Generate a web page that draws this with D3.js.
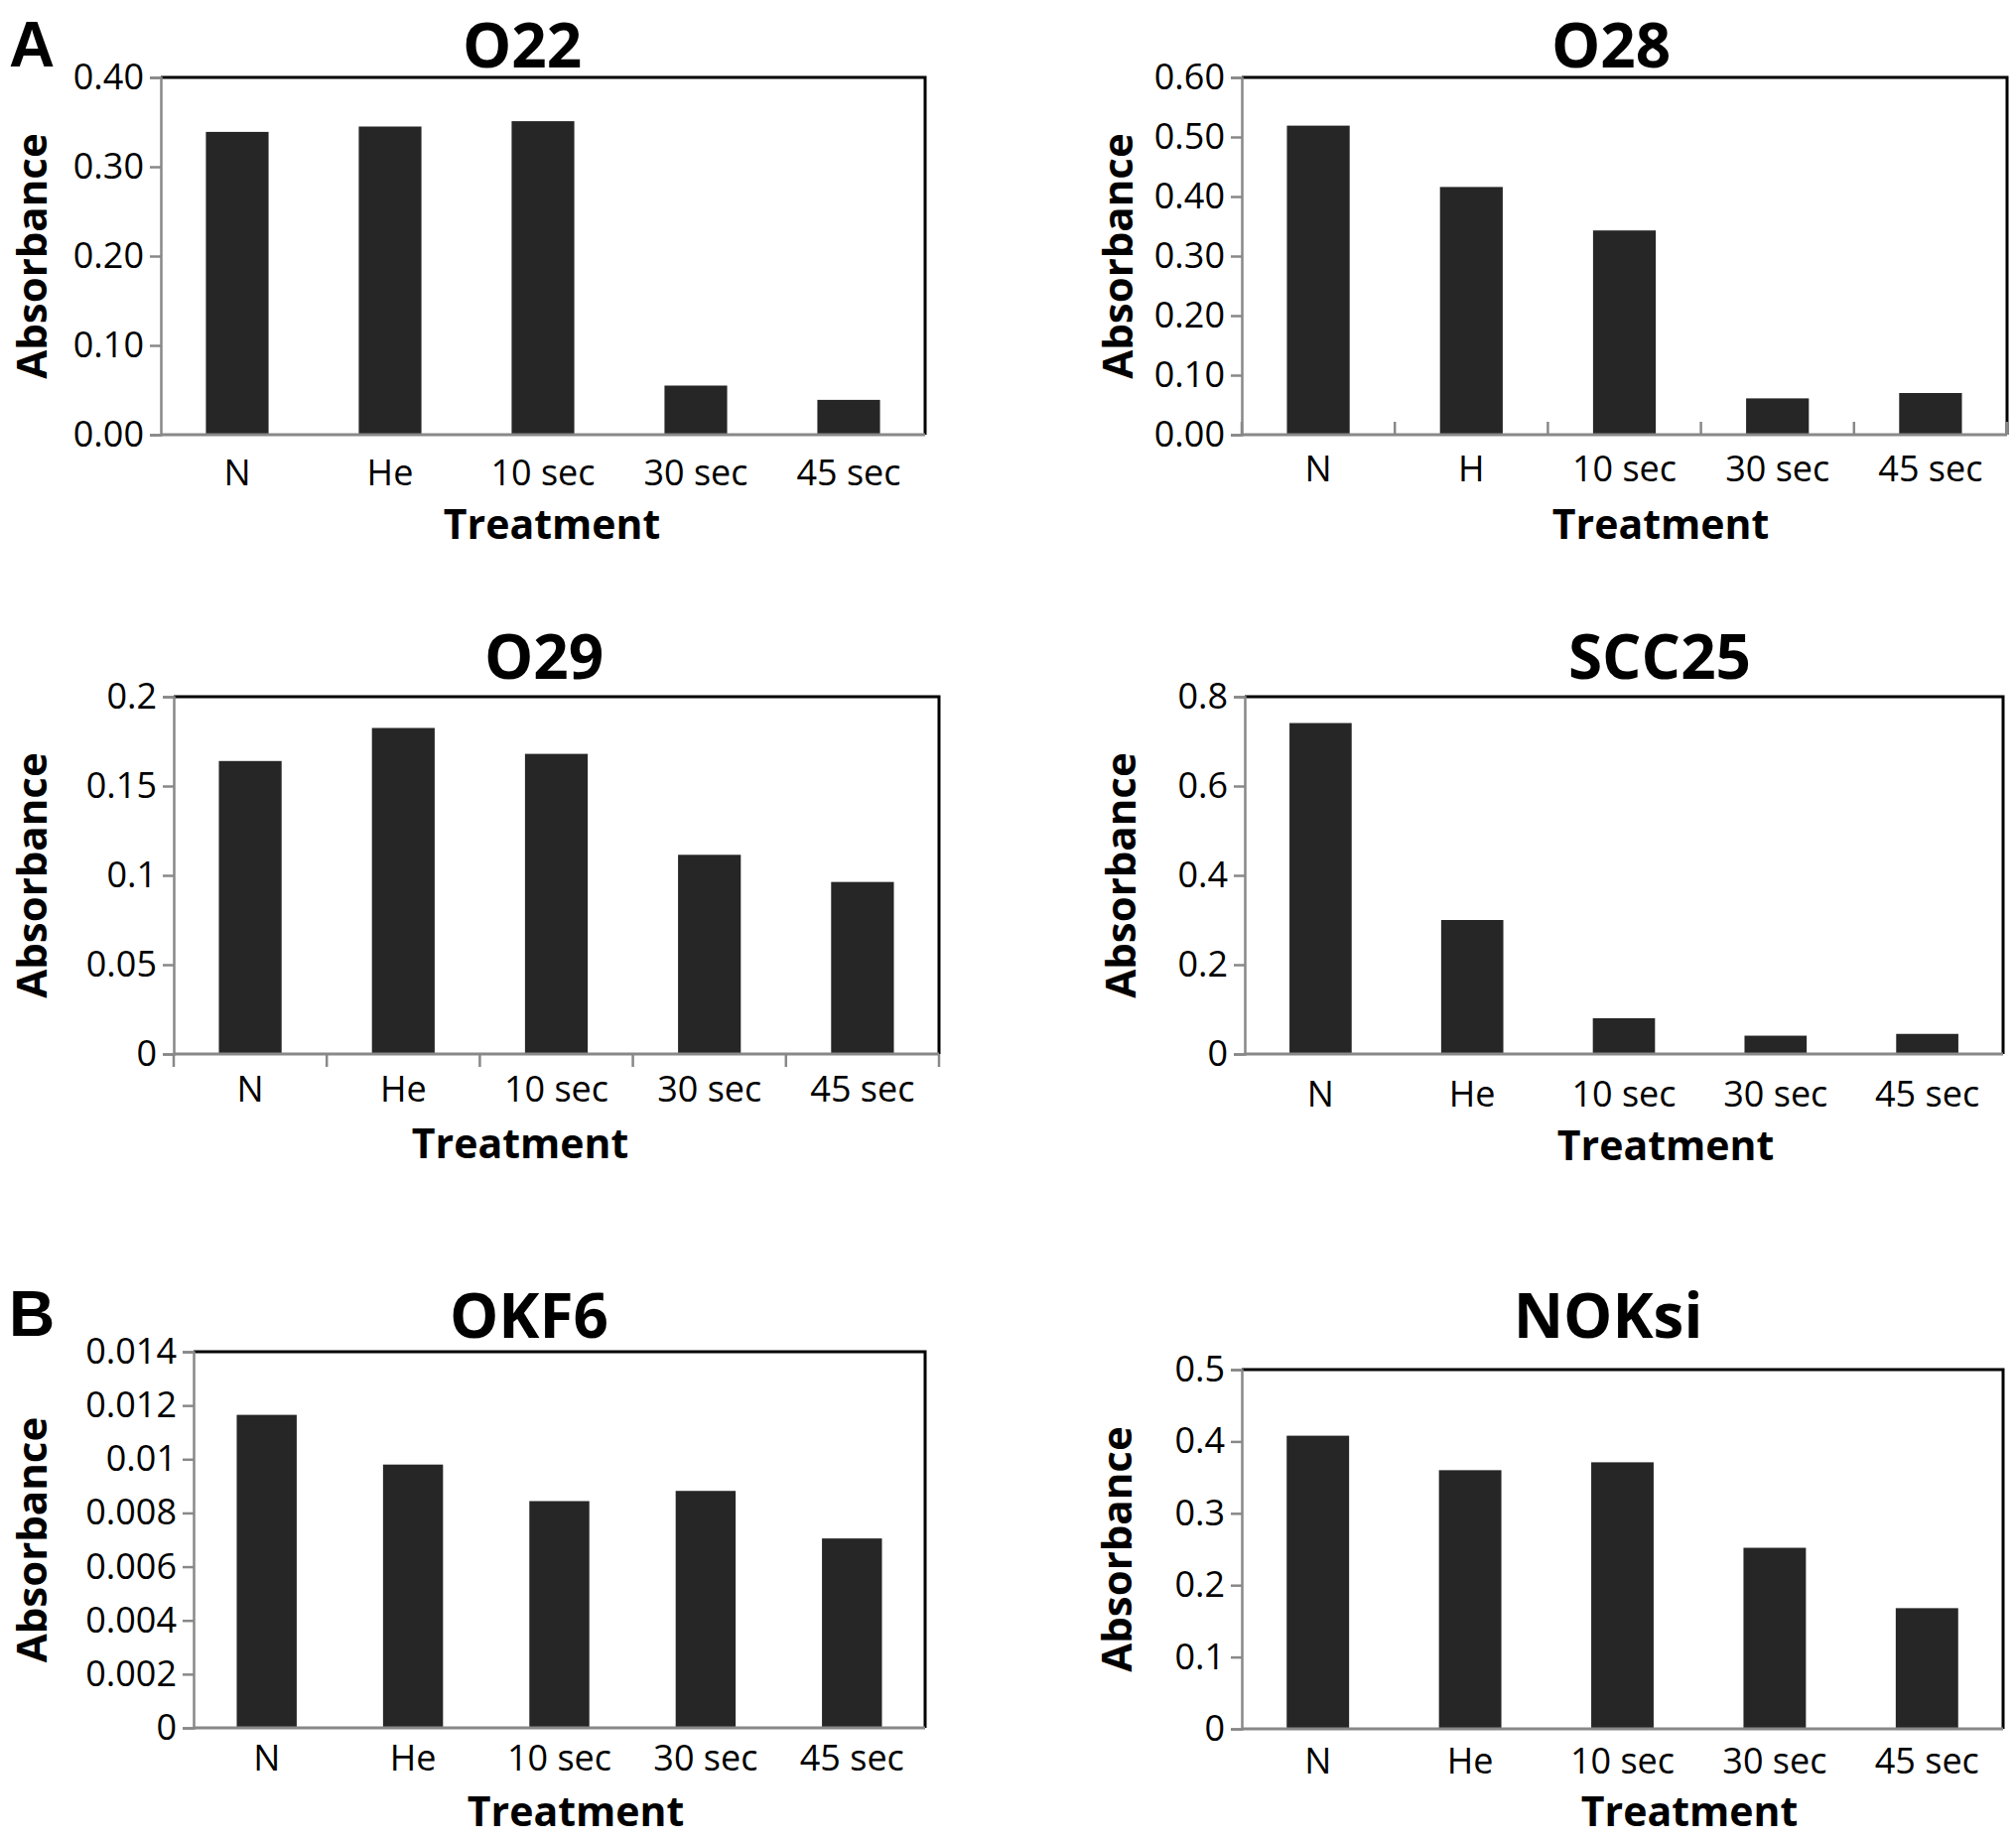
<!DOCTYPE html>
<html>
<head>
<meta charset="utf-8">
<script src="https://cdn.jsdelivr.net/npm/d3@7"></script>
<style>
  body { margin: 0; background: #fff; }
  text { font-family: "Open Sans", "DejaVu Sans", sans-serif; fill: #000; }
</style>
</head>
<body>
<svg width="2031" height="1856"></svg>
<script>
// treatments on the x axis
var treatments = ["N", "He", "10 sec", "30 sec", "45 sec"];
var treatmentsO28 = ["N", "H", "10 sec", "30 sec", "45 sec"];

// absorbance
var o22 = [0.339, 0.345, 0.351, 0.055, 0.039];
var o28 = [0.519, 0.416, 0.343, 0.061, 0.070];
var o29 = [0.164, 0.1825, 0.168, 0.1115, 0.0963];
var scc25 = [0.741, 0.300, 0.080, 0.041, 0.045];
var okf6 = [0.01165, 0.0098, 0.00844, 0.00882, 0.00705];
var noksi = [0.408, 0.360, 0.371, 0.252, 0.168];

// y tick values
var ticksO22 = [0, 0.1, 0.2, 0.3, 0.4];
var ticksO28 = [0, 0.1, 0.2, 0.3, 0.4, 0.5, 0.6];
var ticksO29 = [0, 0.05, 0.1, 0.15, 0.2];
var ticksSCC25 = [0, 0.2, 0.4, 0.6, 0.8];
var ticksOKF6 = [0, 0.002, 0.004, 0.006, 0.008, 0.01, 0.012, 0.014];
var ticksNOKsi = [0, 0.1, 0.2, 0.3, 0.4, 0.5];

var svg = d3.select("svg");

var panels = [
  { title: "O22", cats: treatments, vals: o22, ticks: ticksO22, fmt: d3.format(".2f"),
    x0: 162, x1: 932, y0: 78, y1: 438, titleX: 526, titleY: 68, labY: 489, treatX: 556, treatY: 543, absX: 30, xt: 0 },
  { title: "O28", cats: treatmentsO28, vals: o28, ticks: ticksO28, fmt: d3.format(".2f"),
    x0: 1251, x1: 2022, y0: 78, y1: 438, titleX: 1623, titleY: 68, labY: 485, treatX: 1673, treatY: 543, absX: 1124, xt: -13 },
  { title: "O29", cats: treatments, vals: o29, ticks: ticksO29, fmt: String,
    x0: 175, x1: 946, y0: 702, y1: 1062, titleX: 548, titleY: 684, labY: 1110, treatX: 524, treatY: 1167, absX: 30, xt: 13 },
  { title: "SCC25", cats: treatments, vals: scc25, ticks: ticksSCC25, fmt: String,
    x0: 1254, x1: 2018, y0: 702, y1: 1062, titleX: 1672, titleY: 684, labY: 1115, treatX: 1678, treatY: 1169, absX: 1127, xt: 0 },
  { title: "OKF6", cats: treatments, vals: okf6, ticks: ticksOKF6, fmt: String,
    x0: 195, x1: 932, y0: 1362, y1: 1741, titleX: 533, titleY: 1348, labY: 1784, treatX: 580, treatY: 1840, absX: 30, xt: 0 },
  { title: "NOKsi", cats: treatments, vals: noksi, ticks: ticksNOKsi, fmt: String,
    x0: 1251, x1: 2018, y0: 1380, y1: 1742, titleX: 1620, titleY: 1348, labY: 1787, treatX: 1702, treatY: 1840, absX: 1123, xt: 0 }
];

panels.forEach(function (p) {
  var g = svg.append("g");

  var x = d3.scaleBand()
    .domain(p.cats)
    .range([p.x0, p.x1])
    .paddingInner(0.59)
    .paddingOuter(0.295);

  var y = d3.scaleLinear()
    .domain([p.ticks[0], p.ticks[p.ticks.length - 1]])
    .range([p.y1, p.y0]);

  // bars
  g.selectAll(".bar")
    .data(p.vals)
    .enter()
    .append("rect")
    .attr("x", function (d, i) { return x(p.cats[i]); })
    .attr("y", function (d) { return y(d); })
    .attr("width", x.bandwidth())
    .attr("height", function (d) { return y(0) - y(d); })
    .attr("fill", "#262626");

  // top and right border
  g.append("path")
    .attr("d", "M" + p.x0 + "," + p.y0 + "H" + p.x1 + "V" + p.y1)
    .attr("fill", "none")
    .attr("stroke", "#000")
    .attr("stroke-width", 3);

  // y axis
  var yAxis = g.append("g")
    .attr("transform", "translate(" + p.x0 + ",0)")
    .call(d3.axisLeft(y).tickValues(p.ticks).tickFormat(p.fmt).tickSize(11).tickPadding(6));
  yAxis.select(".domain").attr("stroke", "#888").attr("stroke-width", 2.5);
  yAxis.selectAll(".tick line").attr("stroke", "#888").attr("stroke-width", 2.5);
  yAxis.selectAll("text")
    .style("font-size", "36px")
    .attr("fill", "#000");

  // x axis line
  g.append("line")
    .attr("x1", p.x0).attr("x2", p.x1)
    .attr("y1", p.y1).attr("y2", p.y1)
    .attr("stroke", "#888")
    .attr("stroke-width", 3);

  // x ticks between categories (some panels only)
  if (p.xt !== 0) {
    var bounds = p.cats.map(function (c) { return x(c) - x.step() * x.paddingInner() / 2; });
    bounds.push(p.x1);
    g.selectAll(".xt")
      .data(bounds)
      .enter()
      .append("line")
      .attr("x1", function (d) { return d; })
      .attr("x2", function (d) { return d; })
      .attr("y1", p.y1)
      .attr("y2", p.y1 + p.xt)
      .attr("stroke", "#888")
      .attr("stroke-width", 2.5);
  }

  // category labels
  g.selectAll(".cat")
    .data(p.cats)
    .enter()
    .append("text")
    .attr("x", function (d) { return x(d) + x.bandwidth() / 2; })
    .attr("y", p.labY)
    .attr("text-anchor", "middle")
    .style("font-size", "36px")
    .text(function (d) { return d; });

  g.append("text")
    .attr("x", p.titleX)
    .attr("y", p.titleY)
    .attr("text-anchor", "middle")
    .attr("font-weight", "bold")
    .style("font-size", "62px")
    .text(p.title);

  g.append("text")
    .attr("x", p.treatX)
    .attr("y", p.treatY)
    .attr("text-anchor", "middle")
    .attr("font-weight", "bold")
    .style("font-size", "41px")
    .text("Treatment");

  g.append("text")
    .attr("transform", "translate(" + p.absX + "," + (p.y0 + p.y1) / 2 + ") rotate(-90)")
    .attr("text-anchor", "middle")
    .attr("dominant-baseline", "central")
    .attr("font-weight", "bold")
    .style("font-size", "42px")
    .text("Absorbance");
});

// panel letters
svg.append("text").attr("x", 9).attr("y", 67)
  .style("font-family", "'Liberation Sans', Arial, sans-serif")
  .attr("font-weight", "bold").style("font-size", "64px").text("A");
svg.append("text").attr("x", 9).attr("y", 1346)
  .style("font-family", "'Liberation Sans', Arial, sans-serif")
  .attr("font-weight", "bold").style("font-size", "64px").text("B");
</script>
</body>
</html>
